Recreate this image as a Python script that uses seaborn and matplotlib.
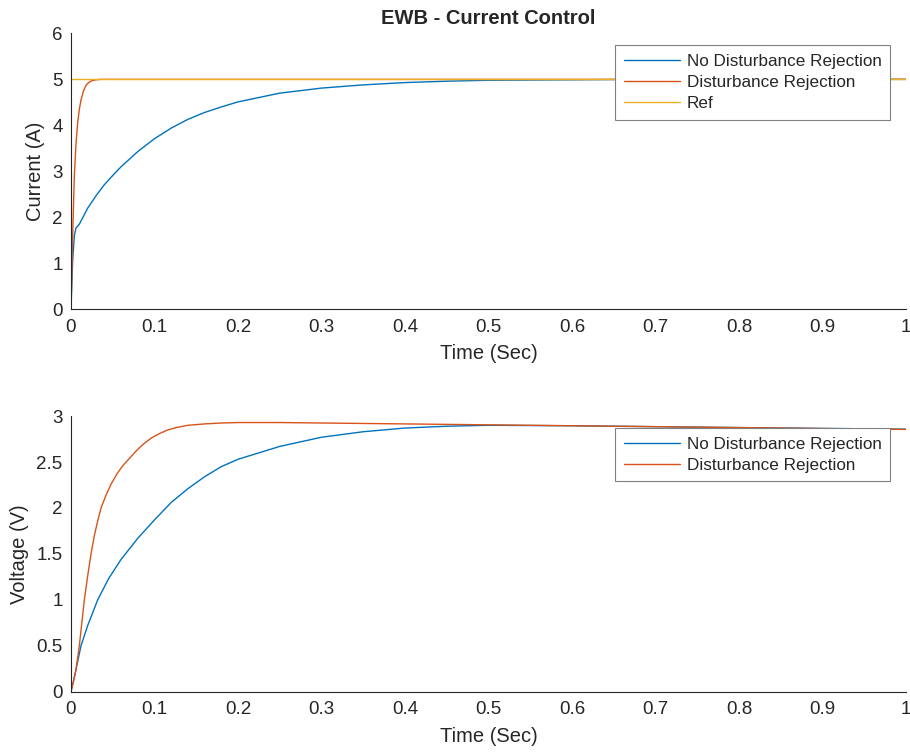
import matplotlib
matplotlib.use("Agg")
import matplotlib.pyplot as plt
from matplotlib.ticker import FuncFormatter, MultipleLocator
import seaborn as sns
import pandas as pd

# ---------------- data ----------------
# Current, no disturbance rejection
cur_t_nodr = [0, 0.002, 0.004, 0.006, 0.01, 0.02, 0.03, 0.04, 0.05, 0.06, 0.08,
              0.10, 0.12, 0.14, 0.16, 0.18, 0.20, 0.25, 0.30, 0.35, 0.40, 0.45,
              0.50, 0.60, 0.70, 0.80, 0.90, 1.00]
cur_nodr = [0, 1.05, 1.6, 1.77, 1.85, 2.2, 2.47, 2.71, 2.91, 3.1, 3.43,
            3.71, 3.94, 4.13, 4.28, 4.40, 4.51, 4.70, 4.81, 4.88, 4.93, 4.96,
            4.98, 4.99, 5.0, 5.0, 5.0, 5.0]

# Current, disturbance rejection
cur_t_dr = [0, 0.002, 0.004, 0.006, 0.008, 0.010, 0.012, 0.015, 0.018, 0.021,
            0.025, 0.030, 0.035, 0.040, 1.0]
cur_dr = [0, 1.6, 2.9, 3.6, 4.05, 4.35, 4.55, 4.75, 4.87, 4.93,
          4.97, 4.99, 5.0, 5.0, 5.0]

# Reference current
ref_t = [0, 1.0]
ref = [5.0, 5.0]

# Voltage, no disturbance rejection
vol_t_nodr = [0, 0.003, 0.006, 0.012, 0.02, 0.032, 0.045, 0.06, 0.08, 0.10,
              0.12, 0.14, 0.16, 0.18, 0.20, 0.25, 0.30, 0.35, 0.40, 0.45, 0.50,
              0.60, 0.70, 0.80, 0.90, 1.00]
vol_nodr = [0, 0.12, 0.24, 0.5, 0.72, 1.0, 1.23, 1.44, 1.67, 1.87,
            2.06, 2.21, 2.34, 2.45, 2.53, 2.67, 2.77, 2.83, 2.87, 2.89, 2.90,
            2.895, 2.885, 2.875, 2.866, 2.858]

# Voltage, disturbance rejection
vol_t_dr = [0, 0.003, 0.006, 0.01, 0.013, 0.016, 0.02, 0.024, 0.028, 0.032,
            0.036, 0.042, 0.048, 0.055, 0.062, 0.07, 0.078, 0.086, 0.096, 0.106,
            0.116, 0.126, 0.14, 0.16, 0.18, 0.20, 0.25, 0.30, 0.40, 0.50, 0.60,
            0.70, 0.80, 0.90, 1.00]
vol_dr = [0, 0.11, 0.24, 0.5, 0.75, 1.0, 1.26, 1.5, 1.7, 1.86,
          2.0, 2.14, 2.26, 2.37, 2.46, 2.54, 2.62, 2.69, 2.76, 2.81,
          2.85, 2.875, 2.90, 2.915, 2.925, 2.93, 2.93, 2.925, 2.915, 2.905, 2.895,
          2.885, 2.875, 2.865, 2.855]

labels = ["No Disturbance Rejection", "Disturbance Rejection", "Ref"]
colors = ["#0072BD", "#D95319", "#EDB120"]
title = "EWB - Current Control"
xticks = [0, 0.1, 0.2, 0.3, 0.4, 0.5, 0.6, 0.7, 0.8, 0.9, 1.0]

# ---------------- style ----------------
sns.set_style("white")
plt.rcParams["font.family"] = ["Liberation Sans", "DejaVu Sans"]
txt = "#262626"

fig = plt.figure(figsize=(9.10, 7.53), dpi=100)
ax1 = fig.add_axes([0.0780, 0.5892, 0.9176, 0.3665])
ax2 = fig.add_axes([0.0780, 0.0814, 0.9176, 0.3660])

fmt = FuncFormatter(lambda v, p: "%g" % round(v, 3))

def draw(ax, t, y, color, label):
    df = pd.DataFrame({"t": t, "y": y})
    sns.lineplot(data=df, x="t", y="y", ax=ax, color=color, linewidth=1.0,
                 label=label, estimator=None, sort=False)

draw(ax1, cur_t_nodr, cur_nodr, colors[0], labels[0])
draw(ax1, cur_t_dr, cur_dr, colors[1], labels[1])
draw(ax1, ref_t, ref, colors[2], labels[2])

draw(ax2, vol_t_nodr, vol_nodr, colors[0], labels[0])
draw(ax2, vol_t_dr, vol_dr, colors[1], labels[1])

for ax, ylim, ystep, ylab in [(ax1, (0, 6), 1, "Current (A)"),
                              (ax2, (0, 3), 0.5, "Voltage (V)")]:
    ax.set_xlim(0, 1)
    ax.set_ylim(*ylim)
    ax.set_xticks(xticks)
    ax.yaxis.set_major_locator(MultipleLocator(ystep))
    ax.xaxis.set_major_formatter(fmt)
    ax.yaxis.set_major_formatter(fmt)
    ax.tick_params(direction="in", length=7, width=0.8, colors=txt,
                   labelsize=13.5)
    ax.tick_params(axis="x", pad=7)
    ax.tick_params(axis="y", pad=6)
    for s in ["top", "right"]:
        ax.spines[s].set_visible(False)
    for s in ["left", "bottom"]:
        ax.spines[s].set_color(txt)
        ax.spines[s].set_linewidth(0.8)
    ax.set_xlabel("Time (Sec)", fontsize=14.5, color=txt, labelpad=6)
    ax.set_ylabel(ylab, fontsize=14.5, color=txt, labelpad=5)
    ax.set_facecolor("white")

ax1.set_title(title, fontsize=14.5, fontweight="bold", color=txt, pad=6.5)

for ax, anchor in [(ax1, (0.981, 0.957)), (ax2, (0.981, 0.956))]:
    leg = ax.legend(loc="upper right", bbox_to_anchor=anchor, borderaxespad=0,
                    fontsize=12.3, handlelength=3.3, handletextpad=0.4,
                    labelspacing=0.36, borderpad=0.5, frameon=True,
                    fancybox=False, framealpha=1)
    leg.get_frame().set_edgecolor("#808080")
    leg.get_frame().set_linewidth(0.8)
    for t in leg.get_texts():
        t.set_color(txt)

fig.savefig("out.png", dpi=100, facecolor="white")
